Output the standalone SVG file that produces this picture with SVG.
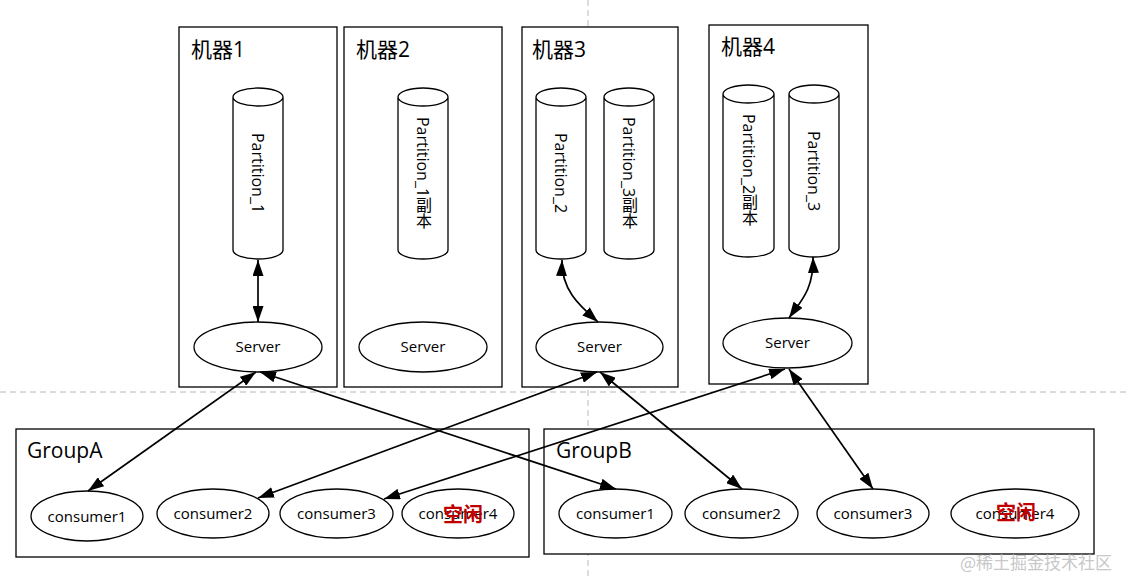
<svg xmlns="http://www.w3.org/2000/svg" width="1127" height="579" viewBox="0 0 1127 579">
<style>
.box{fill:#fff;stroke:#000;stroke-width:1.3}
.shape{fill:#fff;stroke:#000;stroke-width:1.3}
.t{font-family:"Open Sans","Noto Sans CJK SC",sans-serif;fill:#000}
.title{font-size:21px}
.lbl{font-size:15px;text-anchor:middle}
.vt{font-size:16px;text-anchor:middle;writing-mode:vertical-rl}
.idle{font-family:"Noto Sans CJK SC",sans-serif;font-size:20px;font-weight:bold;fill:#c00000;text-anchor:middle}
.dash{stroke:#b8b8b8;stroke-width:1;stroke-dasharray:6,4;fill:none}
.conn{stroke:#000;stroke-width:1.7;fill:none;marker-start:url(#ah);marker-end:url(#ah)}
</style>
<defs>
<marker id="ah" viewBox="0 0 16 11" markerUnits="userSpaceOnUse" markerWidth="16" markerHeight="11" refX="16" refY="5.5" orient="auto-start-reverse">
<path d="M0,0 L16,5.5 L0,11 z" fill="#000"/>
</marker>
</defs>
<rect width="1127" height="579" fill="#fff"/>
<g id="guides">
<line class="dash" x1="0" y1="392" x2="1127" y2="392"/>
<line class="dash" x1="588" y1="0" x2="588" y2="579"/>
</g>
<g id="machine1">
<rect class="box" x="179" y="27" width="158" height="360"/>
<text class="t title" x="191" y="57">机器1</text>
</g>
<g id="machine2">
<rect class="box" x="344" y="27" width="158" height="360"/>
<text class="t title" x="356" y="57">机器2</text>
</g>
<g id="machine3">
<rect class="box" x="522" y="27" width="156" height="360"/>
<text class="t title" x="532" y="57">机器3</text>
</g>
<g id="machine4">
<rect class="box" x="709" y="25" width="159" height="359"/>
<text class="t title" x="721" y="54">机器4</text>
</g>
<g id="partition1">
<path class="shape" d="M233,97 A25,9 0 0 1 283,97 L283,250 A25,9 0 0 1 233,250 Z M233,97 A25,9 0 0 0 283,97"/>
<text class="t vt" x="258" y="173">Partition_1</text>
</g>
<g id="partition1-replica">
<path class="shape" d="M398,97 A25,9 0 0 1 448,97 L448,250 A25,9 0 0 1 398,250 Z M398,97 A25,9 0 0 0 448,97"/>
<text class="t vt" x="423" y="173">Partition_1副本</text>
</g>
<g id="partition2">
<path class="shape" d="M536,97 A25,9 0 0 1 586,97 L586,250 A25,9 0 0 1 536,250 Z M536,97 A25,9 0 0 0 586,97"/>
<text class="t vt" x="561" y="173">Partition_2</text>
</g>
<g id="partition3-replica">
<path class="shape" d="M604,97 A25,9 0 0 1 654,97 L654,250 A25,9 0 0 1 604,250 Z M604,97 A25,9 0 0 0 654,97"/>
<text class="t vt" x="629" y="173">Partition_3副本</text>
</g>
<g id="partition2-replica">
<path class="shape" d="M723,94 A25.5,9 0 0 1 774,94 L774,248 A25.5,9 0 0 1 723,248 Z M723,94 A25.5,9 0 0 0 774,94"/>
<text class="t vt" x="749" y="170">Partition_2副本</text>
</g>
<g id="partition3">
<path class="shape" d="M789,94 A25,9 0 0 1 839,94 L839,248 A25,9 0 0 1 789,248 Z M789,94 A25,9 0 0 0 839,94"/>
<text class="t vt" x="814" y="171">Partition_3</text>
</g>
<g id="server1">
<ellipse class="shape" cx="258" cy="347" rx="64" ry="25"/>
<text class="t lbl" x="258" y="352">Server</text>
</g>
<g id="server2">
<ellipse class="shape" cx="423" cy="347" rx="64" ry="25"/>
<text class="t lbl" x="423" y="352">Server</text>
</g>
<g id="server3">
<ellipse class="shape" cx="599.5" cy="347" rx="63.5" ry="25"/>
<text class="t lbl" x="599.5" y="352">Server</text>
</g>
<g id="server4">
<ellipse class="shape" cx="787.5" cy="343" rx="64.5" ry="25"/>
<text class="t lbl" x="787.5" y="348">Server</text>
</g>
<g id="groupA">
<rect class="box" x="16" y="429" width="513" height="128"/>
<text class="t title" x="27" y="458">GroupA</text>
</g>
<g id="groupB">
<rect class="box" x="544" y="429" width="550" height="125"/>
<text class="t title" x="556" y="458">GroupB</text>
</g>
<g id="a-consumer1">
<ellipse class="shape" cx="87" cy="516" rx="56" ry="25"/>
<text class="t lbl" x="87" y="521.5">consumer1</text>
</g>
<g id="a-consumer2">
<ellipse class="shape" cx="213" cy="513.5" rx="56" ry="24.5"/>
<text class="t lbl" x="213" y="519">consumer2</text>
</g>
<g id="a-consumer3">
<ellipse class="shape" cx="336.5" cy="513.5" rx="56.5" ry="24.5"/>
<text class="t lbl" x="336.5" y="519">consumer3</text>
</g>
<g id="a-consumer4">
<ellipse class="shape" cx="458" cy="513.5" rx="56" ry="24.5"/>
<text class="t lbl" x="458" y="519">consumer4</text>
<text class="idle" x="463" y="522">空闲</text>
</g>
<g id="b-consumer1">
<ellipse class="shape" cx="615.5" cy="513.5" rx="56.5" ry="24.5"/>
<text class="t lbl" x="615.5" y="519">consumer1</text>
</g>
<g id="b-consumer2">
<ellipse class="shape" cx="741.5" cy="513.5" rx="56.5" ry="24.5"/>
<text class="t lbl" x="741.5" y="519">consumer2</text>
</g>
<g id="b-consumer3">
<ellipse class="shape" cx="873" cy="513.5" rx="56" ry="24.5"/>
<text class="t lbl" x="873" y="519">consumer3</text>
</g>
<g id="b-consumer4">
<ellipse class="shape" cx="1015" cy="513.5" rx="64" ry="24.5"/>
<text class="t lbl" x="1015" y="519">consumer4</text>
<text class="idle" x="1016" y="520">空闲</text>
</g>
<g id="connectors">
<line class="conn" x1="258" y1="260" x2="258" y2="322"/>
<path class="conn" d="M562,260 C561,290 580,306 598,322"/>
<path class="conn" d="M813,257 C814,290 800,302 789,318"/>
<line class="conn" x1="88" y1="491" x2="256" y2="372"/>
<line class="conn" x1="260" y1="372" x2="616" y2="489"/>
<line class="conn" x1="258" y1="498" x2="597" y2="372"/>
<line class="conn" x1="600" y1="372" x2="742" y2="489"/>
<line class="conn" x1="384" y1="499" x2="785" y2="369"/>
<line class="conn" x1="789" y1="369" x2="873" y2="489"/>
</g>
<text x="960" y="569" font-family="Noto Sans CJK SC,sans-serif" font-size="17" fill="#c8c8c8">@稀土掘金技术社区</text>
</svg>
